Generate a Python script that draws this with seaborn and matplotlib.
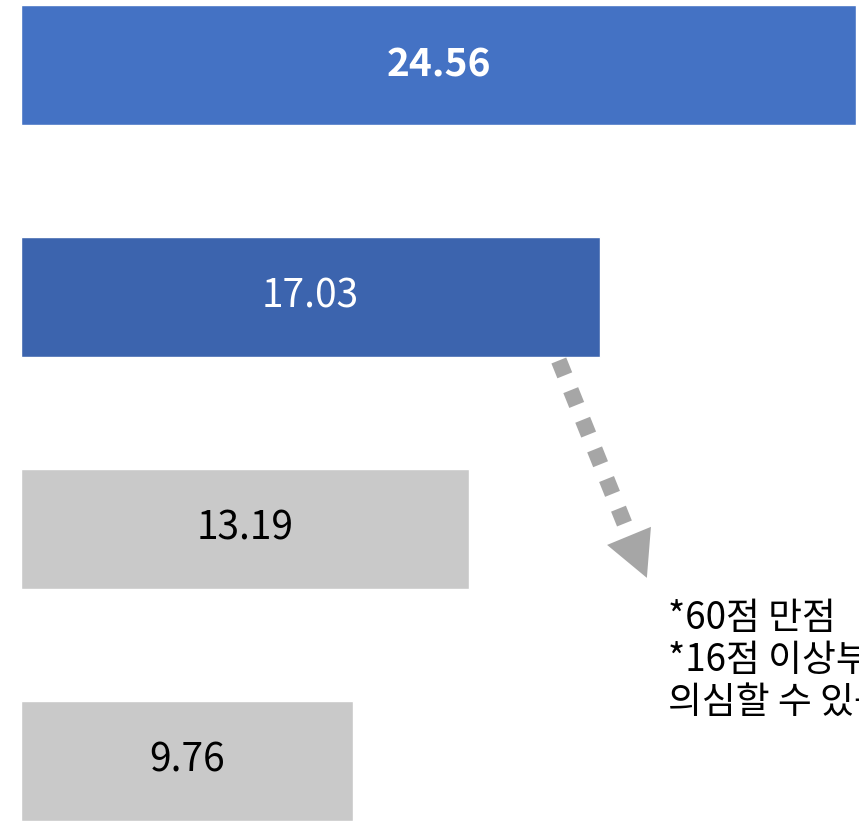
import matplotlib
matplotlib.use("Agg")
import matplotlib.pyplot as plt
import seaborn as sns
from matplotlib.patches import Polygon

# ==========================================
# Data
# ==========================================

groups = ["그룹1", "그룹2", "그룹3", "그룹4"]
scores = [24.56, 17.03, 13.19, 9.76]
bar_colors = ["#4472C4", "#3C64AE", "#C9C9C9", "#C9C9C9"]
label_colors = ["white", "white", "black", "black"]
label_weights = ["bold", "light", "light", "light"]
note_text = "*60점 만점\n*16점 이상부터 우울증을\n의심할 수 있음"

# ==========================================
# Plot
# ==========================================

sns.set_style("white")
plt.rcParams["font.family"] = ["Noto Sans CJK KR", "DejaVu Sans"]

fig = plt.figure(figsize=(8.59, 8.21), dpi=100)
ax = fig.add_axes([0, 0, 1, 1])

sns.barplot(
    x=scores,
    y=groups,
    hue=groups,
    palette=bar_colors,
    orient="h",
    width=0.517,
    saturation=1,
    legend=False,
    ax=ax
)

ax.set_xlim(-0.618, 24.65)
ax.set_ylim(3.259, -0.28)
ax.set_axis_off()

# value labels in the middle of each bar
for i, v in enumerate(scores):
    ax.text(
        v / 2, i, f"{v:.2f}",
        ha="center", va="center",
        fontsize=28, color=label_colors[i],
        fontweight=label_weights[i]
    )

# dotted arrow going down from the second bar
arrow_gray = "#A6A6A6"
ax.plot(
    [15.82, 17.76], [1.274, 1.980],
    color=arrow_gray, linewidth=11.5,
    linestyle=(0, (1, 1)), dash_capstyle="butt"
)
ax.add_patch(Polygon(
    [[17.24, 2.069], [18.53, 1.991], [18.41, 2.211]],
    closed=True, facecolor=arrow_gray, edgecolor="none"
))

# note (runs off the right edge, as in the original)
ax.text(
    19.03, 2.30, note_text,
    ha="left", va="top", fontsize=26.5,
    linespacing=1.1, color="black"
)

fig.savefig("out.png", dpi=100)
